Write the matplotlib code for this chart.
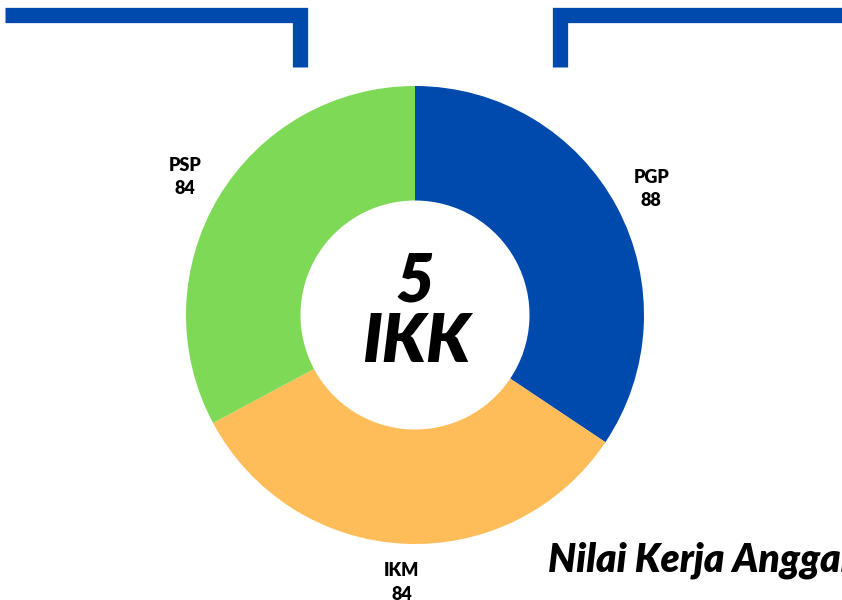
import matplotlib
matplotlib.use("Agg")
import matplotlib.pyplot as plt

# ---------------- Data ----------------
categories = ["PGP", "IKM", "PSP"]
values = [88, 84, 84]
colors = ["#004AAD", "#FFBD59", "#7ED957"]
center_num = "5"
center_txt = "IKK"
footer = "Nilai Kerja Anggaran"

W, H = 842, 600
fig = plt.figure(figsize=(W / 100, H / 100), dpi=100)
ax = fig.add_axes([0, 0, 1, 1])
ax.set_xlim(0, W)
ax.set_ylim(0, H)
ax.set_aspect("equal")
ax.axis("off")

# 环形图
labels = [f"{c}\n{v}" for c, v in zip(categories, values)]
wedges, texts = ax.pie(
    values, labels=labels, colors=colors, startangle=90, counterclock=False,
    center=(415, H - 315), radius=229, labeldistance=1.17,
    wedgeprops=dict(width=229 * 0.5, edgecolor="none"),
    textprops=dict(fontsize=13, fontweight="heavy", family="Lato",
                   linespacing=1.45),
)
for t in texts:
    t.set_ha("center")
ax.set_xlim(0, W)
ax.set_ylim(0, H)

# 中心文字
ax.text(415, H - 281, center_num, ha="center", va="center", fontsize=48,
        fontweight="heavy", style="italic", family="Lato")
ax.text(416, H - 342, center_txt, ha="center", va="center", fontsize=48,
        fontweight="heavy", style="italic", family="Lato")

# 顶部蓝色框线
blue = "#004AAD"
ax.plot([5, 300, 300], [H - 15, H - 15, H - 67], color=blue, lw=11,
        solid_joinstyle="miter", solid_capstyle="butt")
ax.plot([W + 5, 560, 560], [H - 15, H - 15, H - 67], color=blue, lw=11,
        solid_joinstyle="miter", solid_capstyle="butt")

# 底部标题 (超出画面被截断, 与原图一致)
ax.text(548, H - 560, footer, ha="left", va="center", fontsize=28,
        fontweight="heavy", style="italic", family="Lato", clip_on=False)

fig.savefig("out.png", dpi=100)
